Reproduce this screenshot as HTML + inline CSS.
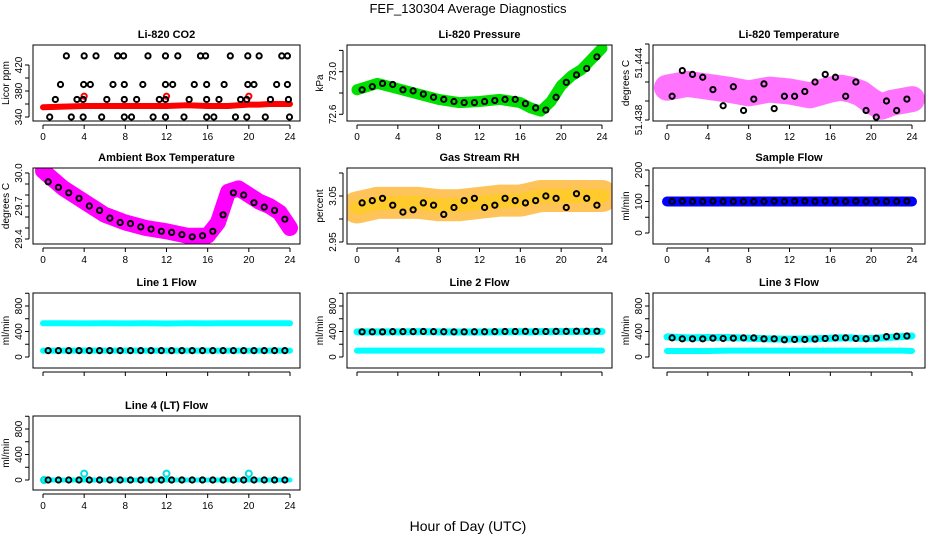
<!DOCTYPE html>
<html><head><meta charset="utf-8"><style>
html,body{margin:0;padding:0;background:#fff;}
svg{display:block;font-family:"Liberation Sans",Arial,sans-serif;}
</style></head><body>
<svg id="c" width="936" height="540" viewBox="0 0 936 540" xmlns="http://www.w3.org/2000/svg">
<text x="468" y="13" text-anchor="middle" font-size="13">FEF_130304  Average Diagnostics</text>
<text x="468" y="531" text-anchor="middle" font-size="14">Hour of Day (UTC)</text>
</svg>
<script>
// ---- data ----
const hourTicks = [0,4,8,12,16,20,24];
const hrs = [0.5,1.5,2.5,3.5,4.5,5.5,6.5,7.5,8.5,9.5,10.5,11.5,12.5,13.5,14.5,15.5,16.5,17.5,18.5,19.5,20.5,21.5,22.5,23.5];
const bandHrs = [0,2,4,6,8,10,12,14,16,17,18,19,20,21,22,23,24];

// CO2
const co2Hours = [2.27,4.0,5.15,7.25,7.83,10.2,11.9,13.1,15.3,15.8,18.2,19.9,21.0,23.2,23.75,
 1.7,3.95,4.6,6.8,7.9,9.7,11.9,12.6,14.7,15.9,17.6,19.9,20.5,22.7,23.75,
 1.2,3.3,3.9,6.2,7.9,9.1,11.3,11.9,14.2,15.9,17.1,19.2,19.8,22.1,23.85,
 0.65,2.75,3.9,5.7,7.9,8.6,10.7,11.9,13.7,15.9,16.6,18.7,19.8,21.6,23.95];
const co2Values = [434,434,434,434,434,434,434,434,434,434,434,434,434,434,434,
 390,390,390,390,390,390,390,390,390,390,390,390,390,390,390,
 367,367,367,367,367,367,367,367,367,367,367,367,367,367,367,
 340,340,340,340,340,340,340,340,340,340,340,340,340,340,340];
const co2Red = [355,356,357,357,357,357,357,358,357,357,357,358,359,359,360,360,360];
const co2RedCircH = [4,12,20];
const co2RedCircV = [372,372,372];

// Pressure
const presBand = [72.83,72.89,72.84,72.79,72.74,72.71,72.72,72.74,72.71,72.66,72.63,72.72,72.87,72.96,73.02,73.12,73.22];
const presBlack = [72.83,72.86,72.89,72.88,72.83,72.82,72.79,72.76,72.74,72.72,72.71,72.71,72.72,72.73,72.74,72.74,72.70,72.66,72.64,72.76,72.90,72.97,73.03,73.14];

// Li-820 temperature
const ltBand = [51.4414,51.4418,51.4415,51.4412,51.4408,51.4412,51.4410,51.4406,51.4412,51.4414,51.4412,51.4408,51.4400,51.4394,51.4398,51.4400,51.4402];
const ltBlack = [51.4405,51.4432,51.4428,51.4425,51.4412,51.4395,51.4415,51.4390,51.4402,51.4418,51.4392,51.4405,51.4405,51.4410,51.4420,51.4428,51.4425,51.4405,51.4420,51.4390,51.4383,51.4400,51.4390,51.4402];

// Ambient box temperature
const ambBand = [30.02,29.86,29.74,29.62,29.55,29.50,29.47,29.43,29.43,29.55,29.83,29.86,29.80,29.74,29.70,29.64,29.50];
const ambBlack = [29.92,29.87,29.82,29.77,29.70,29.66,29.59,29.55,29.54,29.51,29.49,29.47,29.46,29.44,29.42,29.43,29.47,29.62,29.82,29.80,29.73,29.69,29.66,29.58];

// Gas stream RH
const rhBand = [3.025,3.035,3.035,3.035,3.03,3.03,3.035,3.04,3.04,3.045,3.05,3.05,3.05,3.05,3.05,3.05,3.05];
const rhBlack = [3.035,3.04,3.045,3.03,3.015,3.02,3.035,3.03,3.01,3.025,3.04,3.045,3.025,3.03,3.045,3.04,3.035,3.04,3.05,3.045,3.025,3.055,3.045,3.03];

// Flows
const sampleBand = [100,100,100,100,100,100,100,100,100,100,100,100,100,100,100,100,100];
const sampleBlack = [100,101,100,100,101,100,100,100,100,100,101,100,101,101,100,101,100,100,101,100,100,100,100,101];
const l1CyanHi = [530,530,528,530,528,530,525,530,528,530,530,530,530,530,530,530,530];
const l1CyanLo = [100,100,100,100,100,100,100,100,100,100,100,100,100,100,100,100,100];
const l1Black = [100,100,100,100,100,100,100,100,100,100,100,100,100,100,100,100,100,100,100,100,100,100,100,100];
const l2CyanHi = [395,395,395,398,395,392,392,395,398,395,398,398,400,400,400,400,400];
const l2CyanLo = [100,100,100,100,100,100,100,100,100,100,100,100,100,100,100,100,100];
const l2Black = [395,395,395,398,398,398,400,398,396,394,395,396,396,398,400,400,402,400,400,402,402,405,405,405];
const l3CyanHi = [315,300,305,305,295,285,280,285,295,300,300,290,290,300,310,320,330];
const l3CyanLo = [95,95,95,100,100,100,100,100,100,100,100,100,100,100,100,100,95];
const l3Black = [300,285,285,285,295,290,295,300,300,285,285,270,275,275,280,290,300,300,290,285,295,320,325,330];
const l4Cyan = [0,0,0,0,0,0,0,0,0,0,0,0,0,0,0,0,0];
const l4CyanCircH = [0.1,4,12,20];
const l4CyanCircV = [0,100,100,100];
const l4Black = [0,0,0,0,0,0,0,0,0,0,0,0,0,0,0,0,0,0,0,0,0,0,0,0];

const co2Ticks=[340,360,380,400,420], co2Labels=["340","","380","","420"];
const presTicks=[72.6,72.8,73.0,73.2], presLabels=["72.6","","73.0",""];
const ltTicks=[51.438,51.440,51.442,51.444,51.446], ltLabels=["51.438","","","51.444",""];
const ambTicks=[29.4,29.5,29.6,29.7,29.8,29.9,30.0], ambLabels=["29.4","","","29.7","","","30.0"];
const rhTicks=[2.95,3.00,3.05,3.10], rhLabels=["2.95","","3.05",""];
const sfTicks=[0,50,100,150,200], sfLabels=["0","","100","","200"];
const flTicks=[0,200,400,600,800,1000], flLabels=["0","","400","","800",""];

// ---- layout ----
const NS="http://www.w3.org/2000/svg";
const svg=document.getElementById('c');
const cols=[{L:33,R:300,x0:43,x24:290},{L:347,R:612,x0:357,x24:602},{L:653,R:925,x0:667,x24:912}];
const rows=[{T:45,B:121},{T:168,B:244},{T:293,B:368},{T:416,B:490}];
function mk(tag,attrs,parent){const e=document.createElementNS(NS,tag);for(const k in attrs)e.setAttribute(k,attrs[k]);(parent||svg).appendChild(e);return e;}

let pid=0;
function panel(name,title,ylab,c,r,v1,y1,v2,y2,ticks,labels,draw){
  pid++;
  const C=cols[c],R=rows[r];
  const g=mk('g',{});
  
  
  const xs=h=>C.x0+(C.x24-C.x0)*h/24;
  const ys=v=>y1+(v-v1)*(y2-y1)/(v2-v1);
  const cp=mk('clipPath',{id:'cp'+pid},g);
  mk('rect',{x:C.L,y:R.T,width:C.R-C.L,height:R.B-R.T},cp);
  const marks=mk('g',{'clip-path':'url(#cp'+pid+')'},g);
  
  
  draw(marks,xs,ys);
  const box=mk('rect',{x:C.L,y:R.T,width:C.R-C.L,height:R.B-R.T,fill:'none',stroke:'#000','stroke-width':1},g);
  
  
  const t=mk('text',{x:(C.L+C.R)/2,y:R.T-7,'text-anchor':'middle','font-size':11,'font-weight':'bold'},g);
  t.textContent=title;
  
  
  const xa=mk('g',{},g);
  
  
  mk('line',{x1:xs(0),x2:xs(24),y1:R.B+4,y2:R.B+4,stroke:'#000'},xa);
  hourTicks.forEach(h=>{
    mk('line',{x1:xs(h),x2:xs(h),y1:R.B+4,y2:R.B+8,stroke:'#000'},xa);
    if(r!==2){const tl=mk('text',{x:xs(h),y:R.B+19,'text-anchor':'middle','font-size':10},xa);tl.textContent=h;
      
      }
  });
  const ya=mk('g',{},g);
  
  
  const vis=ticks.filter(v=>ys(v)>=R.T-1&&ys(v)<=R.B+1);
  if(vis.length){mk('line',{x1:C.L-4,x2:C.L-4,y1:ys(vis[0]),y2:ys(vis[vis.length-1]),stroke:'#000'},ya);}
  ticks.forEach((v,i)=>{
    const y=ys(v); if(y<R.T-1||y>R.B+1) return;
    mk('line',{x1:C.L-8,x2:C.L-4,y1:y,y2:y,stroke:'#000'},ya);
    if(labels[i]){const tl=mk('text',{x:0,y:0,'text-anchor':'middle','font-size':10,transform:`translate(${C.L-11},${y}) rotate(-90)`},ya);tl.textContent=labels[i];
      
      }
  });
  const yl=mk('text',{x:0,y:0,'text-anchor':'middle','font-size':10,transform:`translate(${C.L-24},${(R.T+R.B)/2}) rotate(-90)`},g);
  yl.textContent=ylab;
  
  
}
function band(g,xs,ys,hs,vs,color,w,op){
  const p=mk('polyline',{points:hs.map((h,i)=>xs(h)+','+ys(vs[i])).join(' '),fill:'none',stroke:color,'stroke-width':w,'stroke-linejoin':'round','stroke-linecap':'round',opacity:op||1},g);
  
  
}
function pts(g,xs,ys,hs,vs,color,rad){
  hs.forEach((h,i)=>{
    const ci=mk('circle',{cx:xs(h),cy:ys(vs[i]),r:rad||2.6,fill:'none',stroke:color,'stroke-width':2},g);
    
    
  });
}

panel('co2','Li-820 CO2','Licor ppm',0,0,340,117,420,65,co2Ticks,co2Labels,(g,xs,ys)=>{
  band(g,xs,ys,bandHrs,co2Red,'#ff0000',6);
  pts(g,xs,ys,co2RedCircH,co2RedCircV,'#ff0000');
  pts(g,xs,ys,co2Hours,co2Values,'#000');
});
panel('pressure','Li-820 Pressure','kPa',1,0,73.0,71.7,72.6,114.3,presTicks,presLabels,(g,xs,ys)=>{
  band(g,xs,ys,bandHrs,presBand,'#00e000',11);
  pts(g,xs,ys,hrs,presBlack,'#000');
});
panel('li820-temp','Li-820 Temperature','degrees C',2,0,51.444,63,51.438,120,ltTicks,ltLabels,(g,xs,ys)=>{
  band(g,xs,ys,bandHrs,ltBand,'#ff00ff',26,0.55);
  pts(g,xs,ys,hrs,ltBlack,'#000');
});
panel('ambient-temp','Ambient Box Temperature','degrees C',0,1,30.0,173,29.4,239,ambTicks,ambLabels,(g,xs,ys)=>{
  band(g,xs,ys,bandHrs,ambBand,'#ff00ff',16);
  pts(g,xs,ys,hrs,ambBlack,'#000');
});
panel('gas-rh','Gas Stream RH','percent',1,1,3.05,196,2.95,242,rhTicks,rhLabels,(g,xs,ys)=>{
  band(g,xs,ys,bandHrs,rhBand,'#ffa500',32,0.65);
  band(g,xs,ys,bandHrs,rhBand,'#ffd000',14,0.5);
  pts(g,xs,ys,hrs,rhBlack,'#000');
});
panel('sample-flow','Sample Flow','ml/min',2,1,0,233,200,170,sfTicks,sfLabels,(g,xs,ys)=>{
  band(g,xs,ys,bandHrs,sampleBand,'#0000ff',10);
  pts(g,xs,ys,hrs,sampleBlack,'#000');
});
panel('line1-flow','Line 1 Flow','ml/min',0,2,0,357,800,306,flTicks,flLabels,(g,xs,ys)=>{
  band(g,xs,ys,bandHrs,l1CyanHi,'#00ffff',6);
  band(g,xs,ys,bandHrs,l1CyanLo,'#00ffff',6);
  pts(g,xs,ys,hrs,l1Black,'#000');
});
panel('line2-flow','Line 2 Flow','ml/min',1,2,0,357,800,306,flTicks,flLabels,(g,xs,ys)=>{
  band(g,xs,ys,bandHrs,l2CyanHi,'#00ffff',7);
  band(g,xs,ys,bandHrs,l2CyanLo,'#00ffff',6);
  pts(g,xs,ys,hrs,l2Black,'#000');
});
panel('line3-flow','Line 3 Flow','ml/min',2,2,0,357,800,306,flTicks,flLabels,(g,xs,ys)=>{
  band(g,xs,ys,bandHrs,l3CyanHi,'#00ffff',7);
  band(g,xs,ys,bandHrs,l3CyanLo,'#00ffff',6);
  pts(g,xs,ys,hrs,l3Black,'#000');
});
panel('line4-flow','Line 4 (LT) Flow','ml/min',0,3,0,480,800,429,flTicks,flLabels,(g,xs,ys)=>{
  band(g,xs,ys,bandHrs,l4Cyan,'#00ffff',5);
  pts(g,xs,ys,l4CyanCircH,l4CyanCircV,'#00e0e0',3);
  pts(g,xs,ys,hrs,l4Black,'#000');
});
</script>
</body></html>
